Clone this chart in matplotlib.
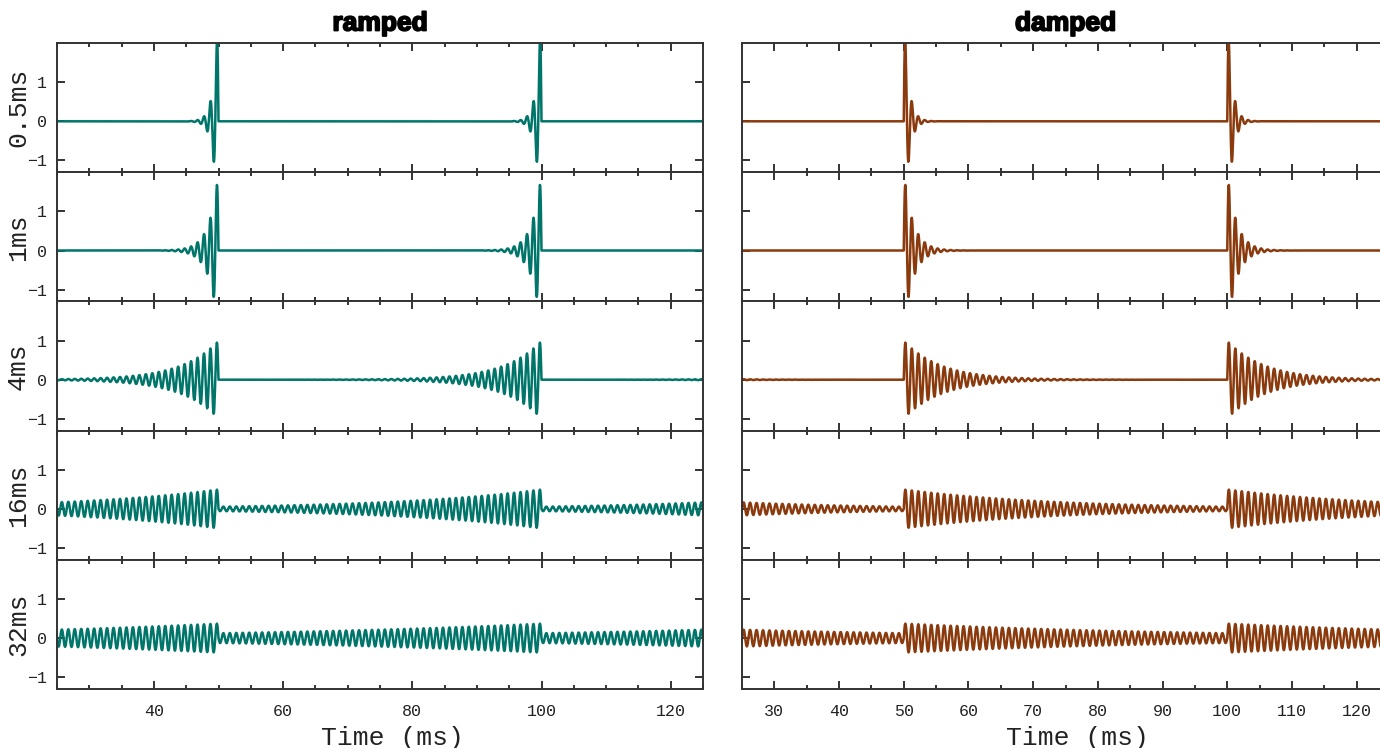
import numpy as np
import matplotlib
matplotlib.use("Agg")
import matplotlib.pyplot as plt
import matplotlib.patheffects as pe
from matplotlib.ticker import MultipleLocator

# ---- data / parameters ----
column_titles = ["ramped", "damped"]
half_lives_ms = [0.5, 1, 4, 16, 32]
row_labels = ["0.5ms", "1ms", "4ms", "16ms", "32ms"]
carrier_hz = 1000.0          # tone frequency
repeat_period_ms = 50.0      # envelope repetition period
rms_target = 0.168           # every signal normalised to this rms
sample_rate_hz = 20000.0
x_range = [25, 125]
y_range = [-1.3, 2.0]
y_ticks = [-1, 0, 1]
x_major_left = 20
x_major_right = 10
x_minor = 5

colors = ["#00756a", "#8a3a0c"]
font_mono = "Liberation Mono"

t = np.arange(0.0, 150.0, 1000.0 / sample_rate_hz)   # ms


def damped_wave(h):
    tau = np.mod(t, repeat_period_ms)
    env = 2.0 ** (-tau / h)
    sig = env * np.sin(2 * np.pi * carrier_hz * tau / 1000.0)
    rms = np.sqrt(np.mean(sig[t < repeat_period_ms] ** 2))
    return sig / rms * rms_target


def ramped_wave(h):
    tau = repeat_period_ms - np.mod(t, repeat_period_ms)
    env = 2.0 ** (-tau / h)
    sig = env * np.sin(2 * np.pi * carrier_hz * tau / 1000.0)
    rms = np.sqrt(np.mean(sig[t < repeat_period_ms] ** 2))
    return sig / rms * rms_target


W, H = 1380, 748
fig = plt.figure(figsize=(W / 100, H / 100), dpi=100)

col_left = [57 / W, 742 / W]
col_width = [(703 - 57) / W, (1389 - 742) / W]
top_px, bot_px = 43, 689
row_h_px = (bot_px - top_px) / 5
row_h = row_h_px / H
spine_col = "#333333"
text_col = "#222222"

for c in range(2):
    for r, h in enumerate(half_lives_ms):
        y0 = 1 - (top_px / H) - (r + 1) * row_h
        ax = fig.add_axes([col_left[c], y0, col_width[c], row_h])
        y = ramped_wave(h) if c == 0 else damped_wave(h)
        ax.plot(t, y, color=colors[c], lw=1.8, solid_joinstyle="round")
        ax.set_xlim(x_range)
        ax.set_ylim(y_range)
        ax.set_yticks(y_ticks)
        ax.xaxis.set_major_locator(MultipleLocator(x_major_left if c == 0 else x_major_right))
        ax.xaxis.set_minor_locator(MultipleLocator(x_minor))
        for s in ax.spines.values():
            s.set_color(spine_col)
            s.set_linewidth(1.4)
        ax.tick_params(axis="both", which="both", direction="in", colors=spine_col,
                       width=1.4, top=True, right=True)
        ax.tick_params(axis="both", which="major", length=5.5)
        ax.tick_params(axis="x", which="minor", length=3.2)
        ax.tick_params(axis="x", pad=11, labelsize=12, labelcolor=text_col)
        ax.tick_params(axis="y", pad=7, labelsize=12, labelcolor=text_col)
        for lab in ax.get_xticklabels() + ax.get_yticklabels():
            lab.set_family(font_mono)
        if c == 1:
            ax.set_yticklabels([])
        else:
            ax.set_ylabel(row_labels[r], family=font_mono, fontsize=19, color=text_col,
                          va="center", ha="center")
            ax.yaxis.set_label_coords((18 - 57) / (703 - 57), 0.5)
        if r < 4:
            ax.set_xticklabels([])
        else:
            ax.set_xlabel("Time (ms)", family=font_mono, fontsize=19, color=text_col,
                          va="center", ha="center")
            ax.xaxis.set_label_coords(0.519, -(738 - 689) / row_h_px)
        if r == 0:
            tt = ax.set_title(column_titles[c], fontsize=19, fontweight="heavy",
                              family="Liberation Sans", pad=9)
            tt.set_path_effects([pe.withStroke(linewidth=1.3, foreground="black")])

fig.savefig("out.png", dpi=100)
